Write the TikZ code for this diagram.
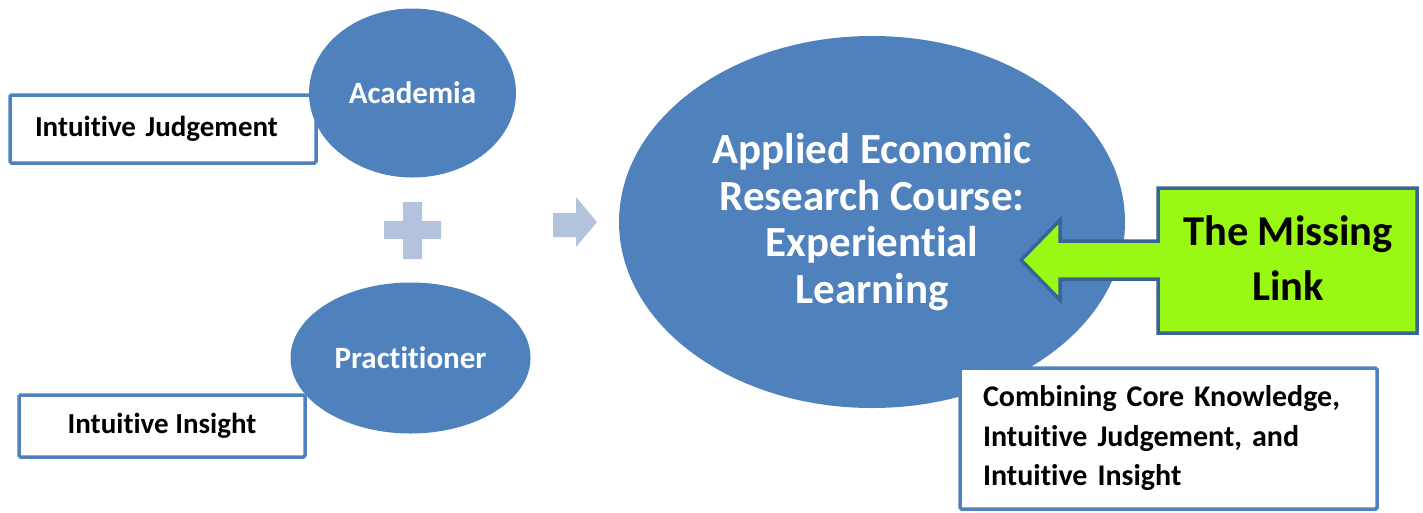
\documentclass[tikz,border=0pt]{standalone}
\usepackage{fontspec}
\setmainfont{Carlito}[Ligatures={NoCommon,NoContextual,NoRare}]
\usetikzlibrary{shapes.geometric}
\definecolor{ovalblue}{HTML}{4F81BD}
\definecolor{lightblue}{HTML}{B3C3DE}
\definecolor{limegreen}{HTML}{99F914}
\definecolor{darkline}{HTML}{3B6394}

\begin{document}
\begin{tikzpicture}[x=1pt,y=-1pt,
  oval/.style={ellipse, fill=ovalblue, draw=none, text=white, inner sep=0pt},
  labelbox/.style={rectangle, draw=ovalblue, line width=3.5pt, fill=white,
    rounded corners=1.5pt, font=\bfseries\fontsize{29}{36}\selectfont, inner sep=0pt},
  sign/.style={fill=lightblue, draw=none}]
\useasboundingbox (0,0) rectangle (1423,512);

% text boxes on the left, behind the ovals
\node[labelbox, minimum height=68pt, text width=256pt, inner xsep=25pt, align=left]
  (judge) at (163,129) {Intuitive Judgement};
\node[labelbox, minimum width=286pt, minimum height=62pt, align=center]
  (insight) at (162,426) {Intuitive Insight};

% the two source ovals
\node[oval, minimum width=207pt, minimum height=169pt,
  font=\bfseries\fontsize{31}{36}\selectfont] (acad) at (412.5,93) {Academia};
\node[oval, minimum width=240pt, minimum height=151pt,
  font=\bfseries\fontsize{31}{36}\selectfont] (pract) at (410.5,358) {Practitioner};

% plus sign between them
\path[sign] (403,202) -- (422,202) -- (422,221) -- (441,221) -- (441,239) -- (422,239)
  -- (422,259) -- (403,259) -- (403,239) -- (384,239) -- (384,221) -- (403,221) -- cycle;

% arrow towards the course
\path[sign] (553,213) -- (576,213) -- (576,197) -- (597,222) -- (576,247) -- (576,237)
  -- (553,237) -- cycle;

% the course oval
\node[oval, minimum width=506pt, minimum height=372pt, align=center,
  font=\bfseries\fontsize{43}{46.7}\selectfont] (course) at (872,222)
  {Applied Economic\\Research Course:\\Experiential\\Learning};

% callout pointing into the course oval
\draw[draw=darkline, fill=limegreen, line width=3.5pt, line join=miter]
  (1158,188) -- (1417,188) -- (1417,333) -- (1158,333) -- (1158,279) -- (1060,279)
  -- (1060,300) -- (1021,260) -- (1060,220) -- (1060,241) -- (1158,241) -- cycle;
\node[align=center, inner sep=0pt, font=\bfseries\fontsize{42.5}{55}\selectfont]
  (missing) at (1288,258) {The Missing\\Link};

% summary box
\node[labelbox, minimum height=141pt, text width=371pt, inner xsep=23pt, align=left,
  font=\bfseries\fontsize{30}{39.5}\selectfont] (combine) at (1168.5,438.5)
  {Combining Core Knowledge,\\Intuitive Judgement, and\\Intuitive Insight};
\end{tikzpicture}
\end{document}
